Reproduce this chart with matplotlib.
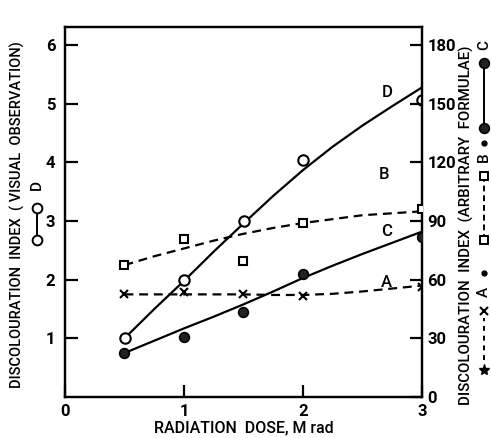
import matplotlib
matplotlib.use("Agg")
import matplotlib.pyplot as plt
from matplotlib.lines import Line2D

plt.rcParams['font.family'] = ['Roboto', 'DejaVu Sans']
plt.rcParams['font.weight'] = 'bold'

# Radiation dose (M rad)
dose = [0.5, 1.0, 1.5, 2.0, 3.0]

# Visual observation index (left axis)
D_obs = [1.0, 2.0, 3.0, 4.04, 5.06]

# Arbitrary-formulae index (right axis)
B_obs = [67.5, 81.0, 69.5, 89.0, 96.0]
C_obs = [22.5, 30.5, 43.5, 63.0, 82.0]
A_obs = [52.5, 53.5, 52.5, 51.5, 56.5]

# Hand-fitted trend curves, read at 0.25 M rad steps
dose_fit = [0.5, 0.75, 1.0, 1.25, 1.5, 1.75, 2.0, 2.25, 2.5, 2.75, 3.0]
D_fit = [1.0, 1.5, 1.98, 2.48, 2.96, 3.43, 3.87, 4.27, 4.63, 4.96, 5.28]
B_fit = [67.5, 72.0, 76.0, 80.0, 83.5, 86.5, 89.0, 91.0, 93.0, 94.0, 95.0]
C_fit = [22.5, 28.8, 35.1, 41.1, 47.4, 54.0, 60.9, 67.2, 73.2, 78.9, 84.6]
A_fit = [52.5, 52.5, 52.5, 52.5, 52.5, 52.2, 52.2, 52.8, 54.0, 55.5, 57.0]

x_ticks = [0, 1, 2, 3]
left_ticks = [1, 2, 3, 4, 5, 6]
right_ticks = [0, 30, 60, 90, 120, 150, 180]

W, H = 491, 438
fig = plt.figure(figsize=(W / 100, H / 100), dpi=100)
ax = fig.add_axes([65 / W, 1 - 397 / H, (422 - 65) / W, (397 - 27) / H])
ax2 = ax.twinx()

ink = 'black'
lw = 1.6
dash = (0, (4, 2.6))

ax.set_xlim(0, 3)
ax.set_ylim(0, 6.31)
ax2.set_ylim(0, 6.31 * 30)

# Series D: open circles, solid curve (left axis)
ax.plot(dose_fit, D_fit, color=ink, lw=lw, zorder=2)
ax.plot(dose, D_obs, 'o', ms=7.5, mfc='white', mec=ink, mew=1.5, zorder=3)

# Series B: open squares, dashed curve
ax2.plot(dose_fit, B_fit, color=ink, lw=lw, ls=dash, zorder=2)
ax2.plot(dose, B_obs, 's', ms=6, mfc='white', mec=ink, mew=1.5, zorder=3)

# Series C: filled circles, solid curve
ax2.plot(dose_fit, C_fit, color=ink, lw=lw, zorder=2)
ax2.plot(dose, C_obs, 'o', ms=7, mfc='#222222', mec=ink, mew=1.2, zorder=3)

# Series A: crosses, dashed curve
ax2.plot(dose_fit, A_fit, color=ink, lw=lw, ls=dash, zorder=2)
ax2.plot(dose, A_obs, 'x', ms=6, mec=ink, mew=1.5, zorder=3)

# Curve labels
lab_kw = dict(fontsize=12, fontweight='medium', color=ink, ha='center', va='center')
ax.text(2.71, 5.2, 'D', **lab_kw)
ax.text(2.68, 3.8, 'B', **lab_kw)
ax.text(2.70, 2.83, 'C', **lab_kw)
ax.text(2.70, 1.96, 'A', **lab_kw)

# Axes styling
for a in (ax, ax2):
    for s in a.spines.values():
        s.set_linewidth(1.6)

ax.set_xticks(x_ticks)
ax.set_xticklabels([str(v) for v in x_ticks])
ax.set_yticks(left_ticks)
ax.set_yticklabels([str(v) for v in left_ticks])
ax2.set_yticks(right_ticks)
ax2.set_yticklabels([str(v) for v in right_ticks])

ax.tick_params(axis='both', direction='in', length=9, width=1.6,
               labelsize=12, pad=5, top=False, right=False)
ax.tick_params(axis='y', pad=7)
ax2.tick_params(axis='y', direction='in', length=9, width=1.6,
                labelsize=12, pad=4)

ax.set_xlabel('RADIATION  DOSE, M rad', fontsize=11.5, fontweight='medium', labelpad=1)

# Axis titles
fig.text(17 / W, 1 - 215 / H, 'DISCOLOURATION  INDEX  ( VISUAL  OBSERVATION)',
         rotation=90, ha='center', va='center', fontsize=10.5, fontweight='medium')
fig.text(466 / W, 1 - 225 / H, 'DISCOLOURATION  INDEX  (ARBITRARY  FORMULAE)',
         rotation=90, ha='center', va='center', fontsize=10.8, fontweight='medium')


def fx(px):
    return px / W


def fy(py):
    return 1 - py / H


# Key for D beside the left axis title
lx = 37
fig.text(fx(lx), fy(185), 'D', rotation=90, ha='center', va='center', fontsize=11,
         fontweight='medium')
fig.add_artist(Line2D([fx(lx), fx(lx)], [fy(208), fy(240)], color=ink, lw=1.4,
                      marker='o', ms=7, mfc='white', mec=ink, mew=1.4,
                      transform=fig.transFigure))

# Key for A, B, C beside the right axis title
rx = 484
fig.add_artist(Line2D([fx(rx)], [fy(370)], marker='*', ms=8, color=ink, ls='none',
                      transform=fig.transFigure))
fig.add_artist(Line2D([fx(rx), fx(rx)], [fy(360), fy(318)], color=ink, lw=1.4,
                      ls=(0, (2.5, 2.5)), transform=fig.transFigure))
fig.add_artist(Line2D([fx(rx)], [fy(311)], marker='x', ms=6, mew=1.5, color=ink,
                      ls='none', transform=fig.transFigure))
fig.text(fx(rx), fy(292), 'A', rotation=90, ha='center', va='center', fontsize=11,
         fontweight='medium')
fig.add_artist(Line2D([fx(rx)], [fy(273)], marker='o', ms=3.5, color=ink,
                      ls='none', transform=fig.transFigure))
fig.add_artist(Line2D([fx(rx), fx(rx)], [fy(240), fy(176)], color=ink, lw=1.4,
                      ls=(0, (3, 2)), marker='s', ms=6, mfc='white', mec=ink, mew=1.4,
                      transform=fig.transFigure))
fig.text(fx(rx), fy(157), 'B', rotation=90, ha='center', va='center', fontsize=11,
         fontweight='medium')
fig.add_artist(Line2D([fx(rx)], [fy(143)], marker='o', ms=3.5, color=ink,
                      ls='none', transform=fig.transFigure))
fig.add_artist(Line2D([fx(rx), fx(rx)], [fy(128), fy(63)], color=ink, lw=1.4,
                      marker='o', ms=7, mfc='#222222', mec=ink, mew=1.2,
                      transform=fig.transFigure))
fig.text(fx(rx), fy(45), 'C', rotation=90, ha='center', va='center', fontsize=11,
         fontweight='medium')

fig.savefig('out.png', dpi=100)
